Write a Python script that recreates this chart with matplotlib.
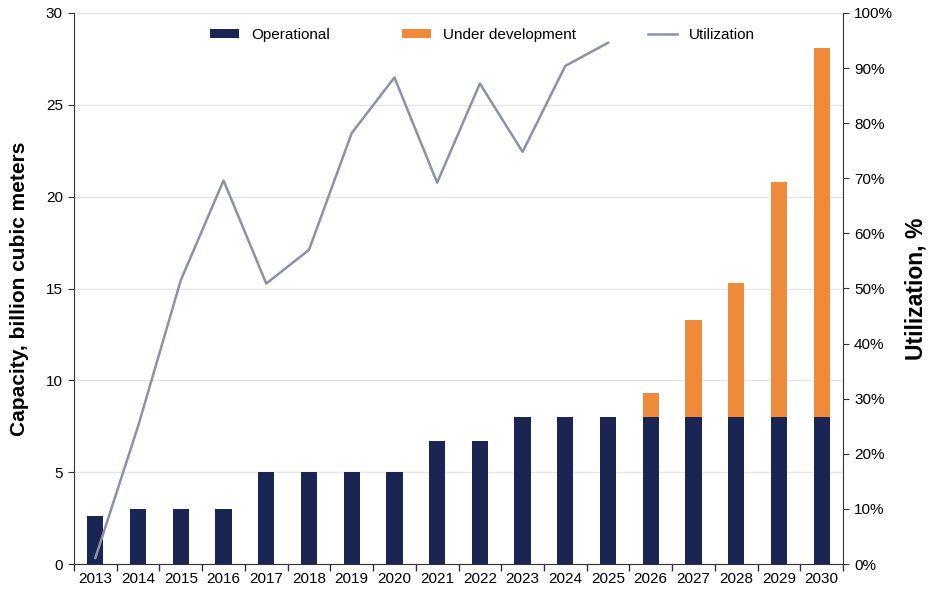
import matplotlib
matplotlib.use("Agg")
import matplotlib.pyplot as plt
import numpy as np
from matplotlib.ticker import FuncFormatter, FixedLocator

years = [str(y) for y in range(2013, 2031)]
operational = [2.6, 3.0, 3.0, 3.0, 5.0, 5.0, 5.0, 5.0, 6.7, 6.7, 8.0, 8.0, 8.0, 8.0, 8.0, 8.0, 8.0, 8.0]
under_dev = [0, 0, 0, 0, 0, 0, 0, 0, 0, 0, 0, 0, 0, 1.3, 5.3, 7.3, 12.8, 20.1]
util_years = years[:13]
utilization = [1.1, 25.0, 51.5, 69.6, 50.9, 57.0, 78.2, 88.3, 69.2, 87.2, 74.8, 90.4, 94.6]

navy = "#1b2553"
orange = "#f08a3b"
grey = "#8a92a6"

plt.rcParams['font.family'] = ['Liberation Sans', 'DejaVu Sans']

fig = plt.figure(figsize=(9.3, 6), dpi=100)
ax = fig.add_axes([74/930, 1-564/600, (843-74)/930, (564-13)/600])
x = np.arange(len(years))
w = 0.38
b1 = ax.bar(x, operational, width=w, color=navy, label="Operational", zorder=3)
b2 = ax.bar(x, under_dev, width=w, bottom=operational, color=orange, label="Under development", zorder=3)
ax.set_xlim(-0.5, len(years)-0.5)
ax.set_ylim(0, 30)
ax.set_yticks(range(0, 31, 5))
ax.set_xticks(x)
ax.set_xticklabels(years)
ax.xaxis.set_minor_locator(FixedLocator(np.arange(-0.5, len(years), 1.0)))
ax.tick_params(axis='x', which='major', length=0, pad=6, labelsize=11)
ax.tick_params(axis='x', which='minor', length=5, color='#333333', width=1)
ax.tick_params(axis='y', length=4, color='#333333', labelsize=11, pad=4)
ax.grid(axis='y', color='#e6e6ea', linewidth=1, zorder=0)
ax.set_axisbelow(True)
for s in ['top', 'right']:
    ax.spines[s].set_visible(False)
ax.spines['left'].set_color('#333333')
ax.spines['bottom'].set_color('#333333')
ax.set_ylabel("Capacity, billion cubic meters", fontsize=15, fontweight='bold', labelpad=12)

ax2 = ax.twinx()
ln, = ax2.plot(np.arange(len(util_years)), utilization, color=grey, linewidth=1.8, label="Utilization", zorder=4)
ax2.set_ylim(0, 100)
ax2.set_yticks(range(0, 101, 10))
ax2.yaxis.set_major_formatter(FuncFormatter(lambda v, p: f"{int(v)}%"))
ax2.tick_params(axis='y', length=4, color='#333333', labelsize=11, pad=4)
for s in ['top', 'left', 'bottom']:
    ax2.spines[s].set_visible(False)
ax2.spines['right'].set_color('#333333')
ax2.set_ylabel("Utilization, %", fontsize=16.5, fontweight='bold', labelpad=8)

handles = [b1, b2, ln]
leg = ax.legend(handles, [h.get_label() for h in handles], loc='upper center',
                bbox_to_anchor=(0.531, 0.998), ncol=3, frameon=False, fontsize=11,
                columnspacing=4.7, handlelength=1.9, handleheight=0.6)
fig.savefig("out.png", dpi=100)
